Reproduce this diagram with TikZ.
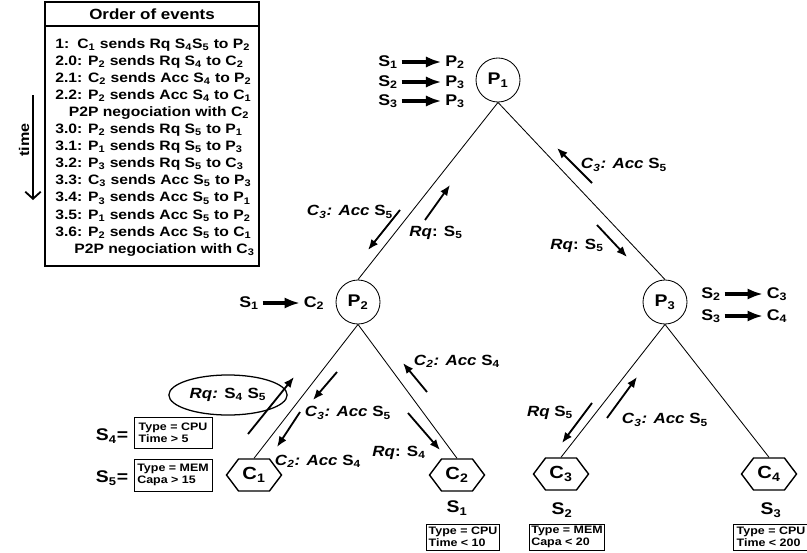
\documentclass[tikz,border=0pt]{standalone}
\usepackage{fontspec}
\setmainfont[FakeStretch=1.15]{Liberation Sans}
\usetikzlibrary{shapes.geometric,shapes.symbols,arrows.meta}
\newcommand{\lo}[1]{\textsubscript{#1}}

\begin{document}
\begin{tikzpicture}[
    x = 0.025cm, y = -0.025cm,
    proc/.style = {circle, draw, line width = 0.6pt, minimum size = 1.1cm,
                   inner sep = 0pt, font = \fontsize{12}{14}\selectfont\bfseries},
    client/.style = {signal, signal to = east and west, signal pointer angle = 106,
                     draw, line width = 1pt, minimum width = 1.375cm,
                     minimum height = 0.8cm, inner sep = 0pt,
                     font = \fontsize{12.5}{14}\selectfont\bfseries},
    spec/.style = {draw, line width = 0.6pt, align = left, inner sep = 0pt,
                   minimum width = 1.95cm, minimum height = 0.78cm,
                   font = \fontsize{7.7}{8.6}\selectfont\bfseries},
    lbl/.style = {inner sep = 2.5pt, font = \fontsize{10.5}{12}\selectfont\bfseries},
    big/.style = {inner sep = 2.5pt, font = \fontsize{11}{13}\selectfont\bfseries},
    link/.style = {line width = 0.6pt},
    msg/.style = {line width = 1.3pt, -{Latex[length = 7.5pt, width = 6pt]}},
    maps/.style = {line width = 2.6pt, -{Latex[length = 11pt, width = 8pt]}}]

\useasboundingbox (0,0) rectangle (807,552);

% order of events
\draw[line width = 0.8pt] (45,2) rectangle (259,266);
\draw[line width = 0.8pt] (45,26) -- (259,26);
\node[font = \fontsize{10.5}{12}\selectfont\bfseries] (evtitle) at (152,14) {Order of events};
\node[anchor = north west, align = left, inner sep = 0pt,
      font = \fontsize{9.7}{12.15}\selectfont\bfseries] (evlist) at (55,38)
  {1:\hspace{0.6em}C\lo1 sends Rq S\lo4S\lo5 to P\lo2\\
   2.0: P\lo2 sends Rq S\lo4 to C\lo2\\
   2.1: C\lo2 sends Acc S\lo4 to P\lo2\\
   2.2: P\lo2 sends Acc S\lo4 to C\lo1\\
   \hspace*{1em}P2P negociation with C\lo2\\
   3.0: P\lo2 sends Rq S\lo5 to P\lo1\\
   3.1: P\lo1 sends Rq S\lo5 to P\lo3\\
   3.2: P\lo3 sends Rq S\lo5 to C\lo3\\
   3.3: C\lo3 sends Acc S\lo5 to P\lo3\\
   3.4: P\lo3 sends Acc S\lo5 to P\lo1\\
   3.5: P\lo1 sends Acc S\lo5 to P\lo2\\
   3.6: P\lo2 sends Acc S\lo5 to C\lo1\\
   \hspace*{1.4em}P2P negociation with C\lo3};

% time
\node[rotate = 90, font = \fontsize{10}{12}\selectfont\bfseries] (time) at (24,140) {time};
\path (33,95) coordinate (t0) (33,200) coordinate (t1);
\draw[line width = 1.3pt, -{Straight Barb[length = 5pt, width = 11pt]}] (t0) -- (t1);

% peers and clients
\node[proc] (P1) at (498,80) {P\lo1};
\node[proc] (P2) at (358,302) {P\lo2};
\node[proc] (P3) at (665,302) {P\lo3};
\node[client] (C1) at (254,475) {C\lo1};
\node[client] (C2) at (457,475) {C\lo2};
\node[client] (C3) at (561,474) {C\lo3};
\node[client] (C4) at (769,474) {C\lo4};

\draw[link] (P1.south) -- (P2.north)
            (P1.south) -- (P3.north)
            (P2.south) -- (C1.north)
            (P2.south) -- (C2.north)
            (P3.south) -- (C3.north)
            (P3.south) -- (C4.north);

% routing tables
\node[big] (r1s) at (388,62) {S\lo1};  \node[big] (r1t) at (455,62) {P\lo2};
\node[big] (r2s) at (388,82) {S\lo2};  \node[big] (r2t) at (455,82) {P\lo3};
\node[big] (r3s) at (388,101) {S\lo3}; \node[big] (r3t) at (455,101) {P\lo3};
\node[big] (r4s) at (249,303) {S\lo1}; \node[big] (r4t) at (314,303) {C\lo2};
\node[big] (r5s) at (711,294) {S\lo2}; \node[big] (r5t) at (777,294) {C\lo3};
\node[big] (r6s) at (711,316) {S\lo3}; \node[big] (r6t) at (777,316) {C\lo4};
\draw[maps] (r1s) -- (r1t);
\draw[maps] (r2s) -- (r2t);
\draw[maps] (r3s) -- (r3t);
\draw[maps] (r4s) -- (r4t);
\draw[maps] (r5s) -- (r5t);
\draw[maps] (r6s) -- (r6t);

% services
\node[big, font = \fontsize{12}{14}\selectfont\bfseries] (s4eq) at (112,436) {S\lo4=};
\node[big, font = \fontsize{12}{14}\selectfont\bfseries] (s5eq) at (112,478) {S\lo5=};
\node[spec] (s4) at (173,433) {Type = CPU\\Time > 5};
\node[spec, minimum height = 0.8cm] (s5) at (173,475) {Type = MEM\\Capa > 15};
\node[big, font = \fontsize{12}{14}\selectfont\bfseries] (c2s) at (457,508) {S\lo1};
\node[big, font = \fontsize{12}{14}\selectfont\bfseries] (c3s) at (562,510) {S\lo2};
\node[big, font = \fontsize{12}{14}\selectfont\bfseries] (c4s) at (771,510) {S\lo3};
\node[spec, minimum width = 1.825cm, minimum height = 0.65cm] (c2spec) at (463,537) {Type = CPU\\Time < 10};
\node[spec, minimum width = 1.875cm, minimum height = 0.65cm] (c3spec) at (567,537) {Type = MEM\\Capa < 20};
\node[spec, minimum width = 1.875cm, minimum height = 0.65cm] (c4spec) at (771,537) {Type = CPU\\Time < 200};

% messages
\node[lbl] (m1) at (350,212) {\textit{C\lo3: Acc} S\lo5};
\node[lbl] (m2) at (436,233) {\textit{Rq}: S\lo5};
\node[lbl] (m3) at (624,165) {\textit{C\lo3: Acc} S\lo5};
\node[lbl] (m4) at (577,246) {\textit{Rq}: S\lo5};
\node[lbl, ellipse, draw, line width = 0.9pt, minimum width = 2.2cm,
      minimum height = 1cm] (m5) at (228,395) {\textit{Rq:} S\lo4 S\lo5};
\node[lbl] (m6) at (348,413) {\textit{C\lo3: Acc} S\lo5};
\node[lbl] (m7) at (318,461) {\textit{C\lo2: Acc} S\lo4};
\node[lbl] (m8) at (457,361) {\textit{C\lo2: Acc} S\lo4};
\node[lbl] (m9) at (399,453) {\textit{Rq}: S\lo4};
\node[lbl] (m10) at (550,413) {\textit{Rq} S\lo5};
\node[lbl] (m11) at (665,420) {\textit{C\lo3: Acc} S\lo5};

\path (400,210) coordinate (a1s) (368,250) coordinate (a1e)
      (425,220) coordinate (a2s) (450,185) coordinate (a2e)
      (592,183) coordinate (a3s) (557,148) coordinate (a3e)
      (597,225) coordinate (a4s) (627,257) coordinate (a4e)
      (248,434) coordinate (a5s) (294,377) coordinate (a5e)
      (337,372) coordinate (a6s) (313,400) coordinate (a6e)
      (300,412) coordinate (a7s) (277,447) coordinate (a7e)
      (427,392) coordinate (a8s) (403,363) coordinate (a8e)
      (408,413) coordinate (a9s) (440,450) coordinate (a9e)
      (592,403) coordinate (a10s) (562,443) coordinate (a10e)
      (607,418) coordinate (a11s) (637,377) coordinate (a11e);
\draw[msg] (a1s) -- (a1e);
\draw[msg] (a2s) -- (a2e);
\draw[msg] (a3s) -- (a3e);
\draw[msg] (a4s) -- (a4e);
\draw[msg] (a5s) -- (a5e);
\draw[msg] (a6s) -- (a6e);
\draw[msg] (a7s) -- (a7e);
\draw[msg] (a8s) -- (a8e);
\draw[msg] (a9s) -- (a9e);
\draw[msg] (a10s) -- (a10e);
\draw[msg] (a11s) -- (a11e);
\end{tikzpicture}
\end{document}
